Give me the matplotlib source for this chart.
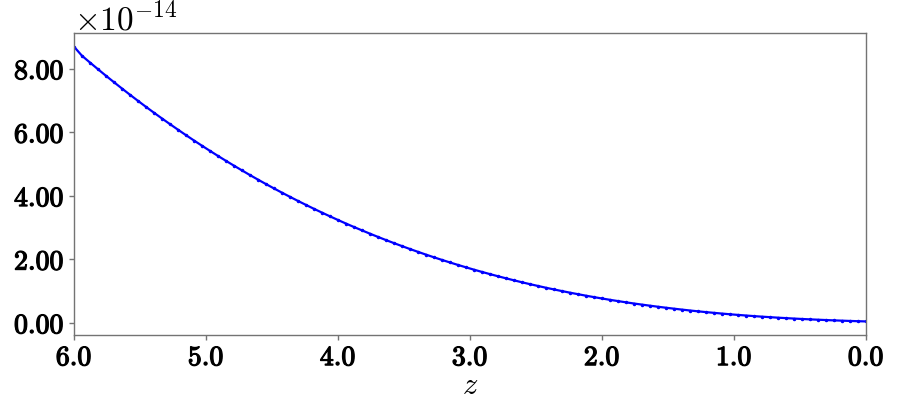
import numpy as np
import matplotlib
matplotlib.use("Agg")
import matplotlib.pyplot as plt
import matplotlib.patheffects as pe
from matplotlib.ticker import ScalarFormatter, FormatStrFormatter, MultipleLocator

plt.rcParams['mathtext.fontset'] = 'cm'
plt.rcParams['font.family'] = 'serif'
plt.rcParams['font.serif'] = ['cmr10', 'DejaVu Serif']
plt.rcParams['axes.formatter.use_mathtext'] = True

# redshift grid (100 samples, 0 -> 6)
z = np.linspace(0.0, 6.0, 100)

# curve values in units of 1e-14
y_vals = [
    0.050, 0.057, 0.065, 0.074, 0.083, 0.093, 0.104, 0.115, 0.127, 0.140,
    0.154, 0.168, 0.184, 0.200, 0.217, 0.236, 0.255, 0.275, 0.297, 0.320,
    0.343, 0.368, 0.394, 0.422, 0.451, 0.481, 0.512, 0.545, 0.579, 0.614,
    0.651, 0.690, 0.730, 0.772, 0.815, 0.860, 0.907, 0.955, 1.005, 1.057,
    1.110, 1.166, 1.223, 1.282, 1.344, 1.407, 1.472, 1.539, 1.608, 1.679,
    1.753, 1.828, 1.906, 1.986, 2.068, 2.153, 2.240, 2.329, 2.421, 2.515,
    2.611, 2.710, 2.812, 2.916, 3.022, 3.131, 3.243, 3.358, 3.475, 3.595,
    3.718, 3.843, 3.972, 4.103, 4.237, 4.374, 4.514, 4.657, 4.804, 4.953,
    5.105, 5.260, 5.419, 5.581, 5.746, 5.914, 6.086, 6.261, 6.439, 6.620,
    6.805, 6.994, 7.186, 7.382, 7.581, 7.783, 7.990, 8.200, 8.413, 8.700,
]
scale = 1e-14


class BoldSciFormatter(ScalarFormatter):
    def _set_format(self):
        self.format = r'$\mathbf{%1.2f}$'


fig = plt.figure(figsize=(8.97, 4.14), dpi=100)
ax = fig.add_axes([0.0825, 0.188, 0.883, 0.730])

ax.plot(z, np.array(y_vals) * scale, color='blue', lw=1.6, marker='.', ms=3)

ax.set_xlim(6.0, 0.0)
ax.xaxis.set_major_locator(MultipleLocator(1.0))
ax.xaxis.set_major_formatter(FormatStrFormatter(r'$\mathbf{%.1f}$'))

fmt = BoldSciFormatter(useMathText=True)
fmt.set_powerlimits((0, 0))
ax.yaxis.set_major_formatter(fmt)
ax.yaxis.set_major_locator(MultipleLocator(2e-14))
ax.yaxis.get_offset_text().set_fontsize(24)

ax.tick_params(labelsize=20, color='0.45', length=3.5, width=1)
bold = [pe.withStroke(linewidth=0.9, foreground='black')]
for lab in ax.get_xticklabels() + ax.get_yticklabels():
    lab.set_path_effects(bold)

for s in ax.spines.values():
    s.set_color('0.45')
    s.set_linewidth(1.0)

ax.set_xlabel(r'$z$', fontsize=22, labelpad=0)

fig.savefig("out.png", dpi=100)
